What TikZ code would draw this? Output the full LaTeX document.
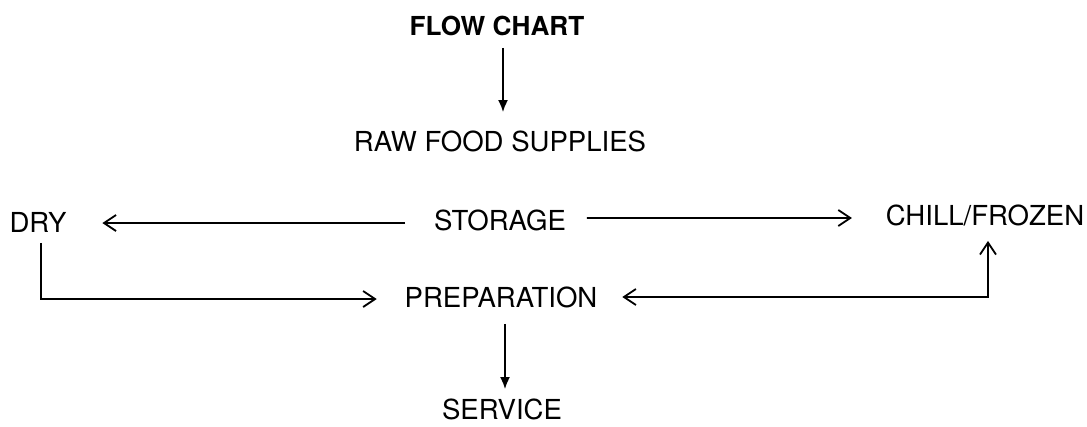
\documentclass[tikz,border=0pt]{standalone}
\usepackage{fontspec}
\setmainfont{TeX Gyre Heros}
\usetikzlibrary{arrows.meta}
\usetikzlibrary{calc,positioning}

\begin{document}
\begin{tikzpicture}[>={Straight Barb[length=3mm,width=4mm]},
    line width=1.3pt,
    word/.style={inner sep=0pt, text height=0.5cm, text depth=0pt,
        font=\fontsize{19.6pt}{22pt}\selectfont},
    drop/.style={-{Latex[length=3mm,width=2.5mm]}}]
    \useasboundingbox (0,0) rectangle (27.175,-10.65);
    
    \node[word, font=\fontsize{18.6pt}{22pt}\selectfont\bfseries] (flow) at (12.425,-0.625) {FLOW CHART};
    \node[word] (raw) at (12.5,-3.525) {RAW FOOD SUPPLIES};
    
    \node[word] (dry) at (0.95,-5.55) {DRY};
    \node[word] (storage) at (12.5,-5.5) {STORAGE};
    \node[word] (chill) at (24.625,-5.375) {CHILL/FROZEN};
    
    \node[word] (prep) at (12.525,-7.425) {PREPARATION};
    \node[word] (service) at (12.55,-10.225) {SERVICE};
    
    \draw[drop] ([xshift=0.15cm,yshift=-0.3cm]flow.south) -- ([xshift=0.075cm,yshift=0.45cm]raw.north);
    
    \draw[->] ([xshift=-0.7cm,yshift=-0.075cm]storage.west) -- ([xshift=0.875cm,yshift=-0.025cm]dry.east);
    \draw[->] ([xshift=0.5cm,yshift=0.05cm]storage.east) -- ([xshift=-0.825cm,yshift=-0.075cm]chill.west);
    
    \draw[->] ([xshift=0.075cm,yshift=-0.25cm]dry.south) |- ([xshift=-0.675cm,yshift=-0.05cm]prep.west);
    \draw[<->] ([xshift=0.6cm]prep.east) -| ([xshift=0.075cm,yshift=-0.375cm]chill.south);
    
    \draw[drop] ([xshift=0.1cm,yshift=-0.4cm]prep.south) -- ([xshift=0.075cm,yshift=0.225cm]service.north);
    
\end{tikzpicture}
\end{document}
